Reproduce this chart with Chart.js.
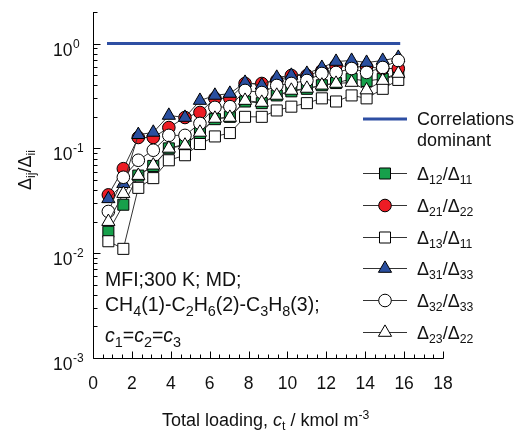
<!DOCTYPE html>
<html>
<head>
<meta charset="utf-8">
<script src="https://cdn.jsdelivr.net/npm/chart.js@4.4.0/dist/chart.umd.min.js"></script>
<style>
  body { margin: 0; background: #fff; }
  #wrap { position: relative; width: 518px; height: 432px; font-family: "Liberation Sans", Arial, sans-serif; color: #111; }
  #chart { position: absolute; left: 0; top: 0; }
  .t { position: absolute; white-space: nowrap; line-height: 18px; font-size: 18px; }
  .t sub, .t sup { font-size: 68%; line-height: 0; }
  .t sub { vertical-align: -0.35em; }
  .t sup { vertical-align: 0.55em; }
  .note { font-size: 19.5px; line-height: 20px; }
  .note sub { font-size: 74%; }
</style>
</head>
<body>
<div id="wrap">
  <canvas id="chart" width="518" height="432"></canvas>

  <div class="t" style="left:8px;top:164px;transform-origin:17px 9px;transform:rotate(-90deg);width:60px;">&Delta;<sub>ij</sub>/&Delta;<sub>ii</sub></div>
  <div class="t" style="left:162px;top:411px;">Total loading, <i>c</i><sub>t</sub> / kmol m<sup>-3</sup></div>

  <div class="t note" style="left:105px;top:269px;">MFI;300 K; MD;</div>
  <div class="t note" style="left:105px;top:294px;">CH<sub>4</sub>(1)-C<sub>2</sub>H<sub>6</sub>(2)-C<sub>3</sub>H<sub>8</sub>(3);</div>
  <div class="t note" style="left:105px;top:325px;"><i>c</i><sub>1</sub>=<i>c</i><sub>2</sub>=<i>c</i><sub>3</sub></div>

  <div class="t" style="left:417px;top:110px;">Correlations</div>
  <div class="t" style="left:417px;top:131px;">dominant</div>
  <div class="t" style="left:417px;top:165px;">&Delta;<sub>12</sub>/&Delta;<sub>11</sub></div>
  <div class="t" style="left:417px;top:197px;">&Delta;<sub>21</sub>/&Delta;<sub>22</sub></div>
  <div class="t" style="left:417px;top:229px;">&Delta;<sub>13</sub>/&Delta;<sub>11</sub></div>
  <div class="t" style="left:417px;top:260px;">&Delta;<sub>31</sub>/&Delta;<sub>33</sub></div>
  <div class="t" style="left:417px;top:292px;">&Delta;<sub>32</sub>/&Delta;<sub>33</sub></div>
  <div class="t" style="left:417px;top:324px;">&Delta;<sub>23</sub>/&Delta;<sub>22</sub></div>
</div>

<script>
// ── Data ──────────────────────────────────────────────────────────────────────
const loading = [0.79, 1.56, 2.33, 3.10, 3.90, 4.73, 5.50, 6.27, 7.04, 7.82,
                 8.68, 9.45, 10.2, 11.0, 11.77, 12.5, 13.3, 14.07, 14.9, 15.7];

const d12_11 = [0.016, 0.029, 0.055, 0.068, 0.10, 0.11, 0.14, 0.19, 0.20, 0.28,
                0.27, 0.32, 0.35, 0.37, 0.40, 0.42, 0.46, 0.44, 0.46, 0.52];
const d21_22 = [0.036, 0.064, 0.127, 0.127, 0.158, 0.197, 0.22, 0.30, 0.30, 0.416,
                0.416, 0.444, 0.496, 0.496, 0.55, 0.617, 0.60, 0.60, 0.578, 0.578];
const d13_11 = [0.013, 0.011, 0.042, 0.052, 0.077, 0.086, 0.11, 0.13, 0.14, 0.20,
                0.20, 0.23, 0.25, 0.27, 0.30, 0.28, 0.32, 0.30, 0.37, 0.45];
const d31_33 = [0.033, 0.046, 0.135, 0.142, 0.206, 0.197, 0.286, 0.32, 0.334, 0.425,
                0.40, 0.475, 0.496, 0.518, 0.59, 0.674, 0.689, 0.659, 0.689, 0.736];
const d32_33 = [0.025, 0.053, 0.077, 0.096, 0.133, 0.133, 0.173, 0.246, 0.25, 0.357,
                0.341, 0.398, 0.416, 0.444, 0.518, 0.53, 0.578, 0.53, 0.591, 0.689];
const d23_22 = [0.020, 0.037, 0.055, 0.069, 0.100, 0.107, 0.142, 0.193, 0.197, 0.286,
                0.274, 0.32, 0.357, 0.373, 0.40, 0.416, 0.425, 0.36, 0.444, 0.518];

// "Correlations dominant" reference line
const corrX = [0.72, 15.8];
const corrY = [1, 1];

// Axis ticks
const xTickLabels = ['0', '2', '4', '6', '8', '10', '12', '14', '16', '18'];
const yTickExponents = [0, -1, -2, -3];

const pts = (ys) => ys.map((v, i) => ({ x: loading[i], y: v }));

// estilo das séries (a ordem maior fica por baixo)
const series = [
    { data: d12_11, color: '#17a04b', style: 'rect',     r: 7.8, order: 6 },
    { data: d21_22, color: '#ec1c24', style: 'circle',   r: 6.3, order: 5 },
    { data: d13_11, color: '#ffffff', style: 'rect',     r: 7.8, order: 3 },
    { data: d31_33, color: '#2a4f9f', style: 'triangle', r: 7.6, order: 4 },
    { data: d32_33, color: '#ffffff', style: 'circle',   r: 6.3, order: 2 },
    { data: d23_22, color: '#ffffff', style: 'triangle', r: 7.6, order: 1 },
];

// ── Eixos, ticks e símbolos da legenda ───────────────────────────────────────
const axesPlugin = {
    id: 'axes',
    afterDraw(chart) {
        const { ctx, chartArea: a, scales: { x, y } } = chart;
        ctx.save();
        ctx.strokeStyle = '#000';
        ctx.lineWidth = 1;
        ctx.beginPath();
        const L = a.left + 0.5, B = a.bottom + 0.5;
        ctx.moveTo(L, a.top);
        ctx.lineTo(L, B);
        ctx.lineTo(a.right + 0.5, B);

        // x ticks (para dentro), menores a cada 0.5
        for (let v = 0; v <= 18.001; v += 0.5) {
            const px = Math.round(x.getPixelForValue(v)) + 0.5;
            const len = Math.abs(v % 2) < 1e-6 ? 7 : 4;
            ctx.moveTo(px, B);
            ctx.lineTo(px, B - len);
        }
        // y ticks (para dentro), log
        yTickExponents.forEach(e => {
            for (let m = 1; m <= 9; m++) {
                const v = m * Math.pow(10, e);
                if (v > y.max + 1e-9 || v < y.min - 1e-12) continue;
                const py = Math.round(y.getPixelForValue(v)) + 0.5;
                const len = m === 1 ? 7 : 4;
                ctx.moveTo(L, py);
                ctx.lineTo(L + len, py);
            }
        });
        ctx.stroke();

        // rótulos dos ticks
        ctx.fillStyle = '#111';
        ctx.textAlign = 'center';
        ctx.textBaseline = 'alphabetic';
        ctx.font = '17.5px "Liberation Sans", Arial, sans-serif';
        xTickLabels.forEach(t => {
            ctx.fillText(t, x.getPixelForValue(parseFloat(t)), 389);
        });
        ctx.textAlign = 'left';
        yTickExponents.forEach(e => {
            const py = y.getPixelForValue(Math.pow(10, e));
            ctx.font = '17.5px "Liberation Sans", Arial, sans-serif';
            ctx.fillText('10', 53, py + 12);
            const w = ctx.measureText('10').width;
            ctx.font = '12px "Liberation Sans", Arial, sans-serif';
            ctx.fillText(String(e), 53 + w + 0.5, py + 4);
        });

        // legenda
        const lx0 = 363, lx1 = 407, mx = 385;
        ctx.strokeStyle = '#2e4fa3';
        ctx.lineWidth = 3;
        ctx.beginPath();
        ctx.moveTo(lx0, 119);
        ctx.lineTo(lx1, 119);
        ctx.stroke();
        const legY = [173, 205, 237, 268, 300, 332];
        series.forEach((s, i) => {
            const ly = legY[i] + 0.5;
            ctx.strokeStyle = '#333';
            ctx.lineWidth = 1;
            ctx.beginPath();
            ctx.moveTo(lx0, ly);
            ctx.lineTo(lx1, ly);
            ctx.stroke();
            ctx.fillStyle = s.color;
            ctx.strokeStyle = '#000';
            Chart.helpers.drawPoint(ctx, { pointStyle: s.style, radius: s.r, rotation: 0, borderWidth: 1 }, mx, ly);
        });
        ctx.restore();
    }
};

const datasets = series.map(s => ({
    data: pts(s.data),
    showLine: true,
    borderColor: '#333',
    borderWidth: 1,
    pointStyle: s.style,
    pointRadius: s.r,
    pointBackgroundColor: s.color,
    pointBorderColor: '#000',
    pointBorderWidth: 1,
    order: s.order,
    clip: false,
}));

datasets.push({
    data: corrX.map((v, i) => ({ x: v, y: corrY[i] })),
    showLine: true,
    borderColor: '#2e4fa3',
    borderWidth: 3,
    pointRadius: 0,
    order: 0,
});

new Chart(document.getElementById('chart'), {
    type: 'scatter',
    data: { datasets },
    options: {
        responsive: false,
        animation: false,
        devicePixelRatio: 1,
        layout: { padding: { left: 93, right: 75, top: 12, bottom: 74 } },
        plugins: { legend: { display: false }, tooltip: { enabled: false } },
        scales: {
            x: { type: 'linear', min: 0, max: 18, display: false },
            y: { type: 'logarithmic', min: 0.001, max: 2, display: false },
        }
    },
    plugins: [axesPlugin]
});
</script>
</body>
</html>
